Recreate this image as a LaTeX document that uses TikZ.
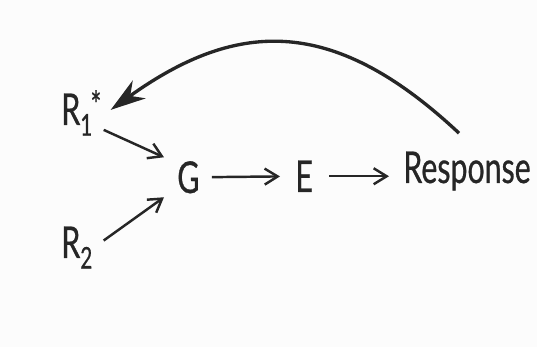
\documentclass[tikz,border=0pt]{standalone}
\usepackage{fontspec}
\setmainfont[FakeStretch=0.69, FakeBold=0.6]{Lato}
\usetikzlibrary{arrows.meta}
\definecolor{ink}{RGB}{38,38,38}
\definecolor{pp}{RGB}{252,252,252}

\begin{document}
\begin{tikzpicture}[x=0.02cm, y=-0.02cm,
    lbl/.style={font=\fontsize{25}{29}\selectfont, text=ink, inner sep=0pt, anchor=base west},
    arr/.style={-{Straight Barb[length=2.6mm,width=3.2mm,line width=1.4pt]}, line width=1.4pt, ink},
    fb/.style={-{Stealth[length=7mm,width=4.4mm,inset=2.2mm]}, line width=1.9pt, ink}]

% ── paper ──
\fill[pp] (0,0) rectangle (537,347);
\useasboundingbox (0,0) rectangle (537,347);

% ── labels ──
\node[lbl] (r1) at (61,125)
    {R\raisebox{-6pt}{\fontsize{17}{17}\selectfont 1}\kern-1pt\raisebox{4pt}{\fontsize{21}{21}\selectfont *}};
\node[lbl] (r2) at (61,258)
    {R\raisebox{-6pt}{\fontsize{17}{17}\selectfont 2}};
\node[lbl] (g) at (177,193) {G};
\node[lbl] (e) at (295,192) {E};
\node[lbl] (resp) at (403,183) {Response};

% ── inputs to G ──
\draw[arr] ([shift={(2,-6)}]r1.south east) -- ([shift={(-13,-20)}]g.west);
\draw[arr] ([shift={(11,-7)}]r2.east) -- ([shift={(-13,20)}]g.west);

% ── main chain ──
\draw[arr, shorten <=12*0.02cm, shorten >=15*0.02cm] (g.east) -- (e.west);
\draw[arr, shorten <=16*0.02cm, shorten >=14*0.02cm] (e.east) -- (e.east -| resp.west);

% ── feedback ──
\draw[fb] ([shift={(-8,-18)}]resp.north) .. controls (336,18) and (240,17)
    .. ([shift={(9,-3)}]r1.east);

\end{tikzpicture}
\end{document}
